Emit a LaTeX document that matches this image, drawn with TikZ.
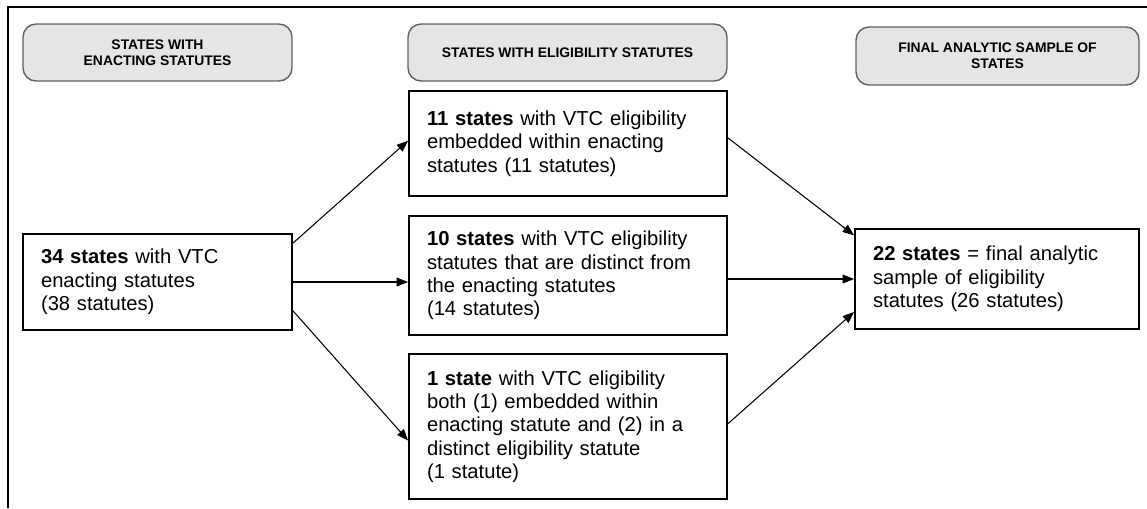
\documentclass[tikz,border=0pt]{standalone}
\usepackage{fontspec}
\setmainfont{Liberation Sans}
\usepackage{tikz}
\usetikzlibrary{arrows.meta}

\begin{document}
\begin{tikzpicture}[x=0.02cm, y=-0.02cm,
  head/.style={draw=gray!75!black, fill=gray!20, line width=0.8pt, rounded corners=2.6mm, align=center, inner sep=0pt, font=\bfseries\fontsize{7.9}{9}\selectfont},
  box/.style={draw, line width=1.1pt, align=left, inner ysep=0pt, inner xsep=0.36cm, font=\fontsize{11.5}{13.3}\selectfont},
  arr/.style={-{Triangle[length=6.5pt, width=5pt]}, line width=0.6pt}]
\useasboundingbox (0,0) rectangle (1147,508);
\draw[line width=1.1pt] (8,508) -- (8,7) -- (1147,7);

\node(h1)[head, minimum width=5.38cm, minimum height=1.14cm] at (157.5,52.5) {STATES WITH\\ENACTING STATUTES};
\node(h2)[head, minimum width=6.38cm, minimum height=1.14cm] at (567.5,52.5) {STATES WITH ELIGIBILITY STATUTES};
\node(h3)[head, minimum width=5.66cm, minimum height=1.16cm] at (997.5,56) {FINAL ANALYTIC SAMPLE OF\\STATES};

\node(s34)[box, text width=4.66cm, minimum height=1.92cm] at (157.5,282) {\textbf{34 states} with VTC\\enacting statutes\\(38 statutes)};
\node(s11)[box, text width=5.64cm, minimum height=2.1cm] at (568,143.5) {\textbf{11 states} with VTC eligibility\\embedded within enacting\\statutes (11 statutes)};
\node(s10)[box, text width=5.64cm, minimum height=2.38cm] at (568,275.5) {\textbf{10 states} with VTC eligibility\\statutes that are distinct from\\the enacting statutes\\(14 statutes)};
\node(s1)[box, text width=5.64cm, minimum height=2.9cm] at (568,426.5) {\textbf{1 state} with VTC eligibility\\both (1) embedded within\\enacting statute and (2) in a\\distinct eligibility statute\\(1 statute)};
\node(s22)[box, text width=4.96cm, minimum height=2cm] at (997,279) {\textbf{22 states} = final analytic\\sample of eligibility\\statutes (26 statutes)};

\draw[arr] (s34.16) -- (s11.179);
\draw[arr] (s34.east) -- (s34.east -| s10.west);
\draw[arr] (s34.-12) -- (s1.185);
\draw[arr] (s11.2) -- (s22.163);
\draw[arr] (s10.east |- s22.west) -- (s22.west);
\draw[arr] (s1.1) -- (s22.193);
\end{tikzpicture}
\end{document}
